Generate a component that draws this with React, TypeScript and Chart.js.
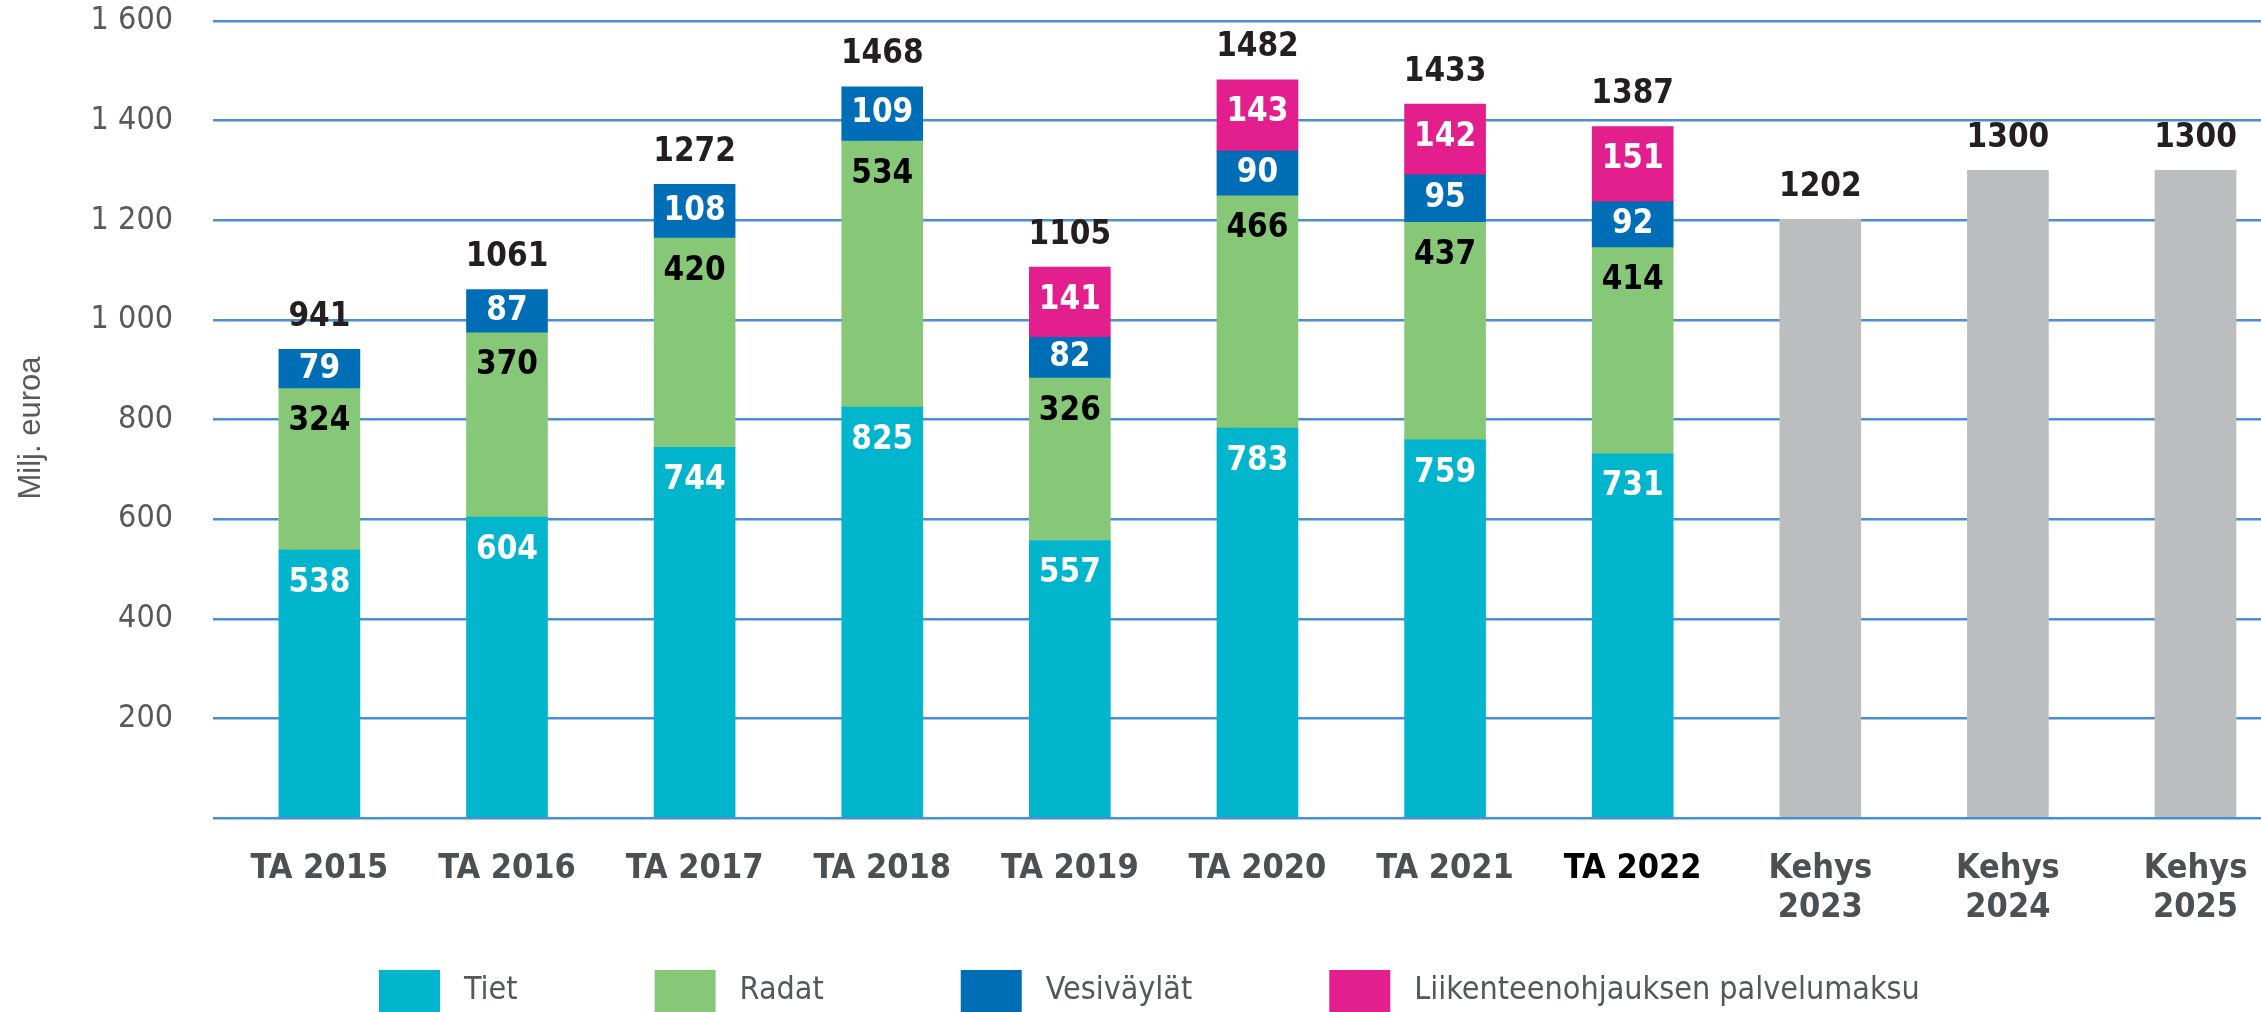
import React, { useEffect, useRef } from "react";
import { Chart, registerables } from "chart.js";

Chart.register(...registerables);

const categories = [
  "TA 2015", "TA 2016", "TA 2017", "TA 2018", "TA 2019", "TA 2020",
  "TA 2021", "TA 2022", "Kehys\n2023", "Kehys\n2024", "Kehys\n2025",
];
const highlightCategory = "TA 2022";

const tiet = [538, 604, 744, 825, 557, 783, 759, 731, null, null, null];
const radat = [324, 370, 420, 534, 326, 466, 437, 414, null, null, null];
const vesivaylat = [79, 87, 108, 109, 82, 90, 95, 92, null, null, null];
const liikenne = [null, null, null, null, 141, 143, 142, 151, null, null, null];
const kehys = [null, null, null, null, null, null, null, null, 1202, 1300, 1300];
const totals = [941, 1061, 1272, 1468, 1105, 1482, 1433, 1387, 1202, 1300, 1300];

const yTicks = [0, 200, 400, 600, 800, 1000, 1200, 1400, 1600];
const yTitle = "Milj. euroa";

const FONT = "'DejaVu Sans Condensed', 'DejaVu Sans', Tahoma, sans-serif";

const series = [
  { label: "Tiet", data: tiet, color: "#00b5cc", textColor: "#ffffff", legend: true },
  { label: "Radat", data: radat, color: "#86c877", textColor: "#000000", legend: true },
  { label: "Vesiväylät", data: vesivaylat, color: "#006eb6", textColor: "#ffffff", legend: true },
  { label: "Liikenteenohjauksen palvelumaksu", data: liikenne, color: "#e31f8e", textColor: "#ffffff", legend: true },
  { label: "Kehys", data: kehys, color: "#bcbdbf", textColor: null, legend: false },
];

function formatTick(v: number): string {
  if (v === 0) return "";
  if (v >= 1000) return `${Math.floor(v / 1000)} ${String(v % 1000).padStart(3, "0")}`;
  return String(v);
}

const labelPlugin = {
  id: "barLabels",
  afterDatasetsDraw(chart: any) {
    const ctx = chart.ctx;
    ctx.save();
    ctx.textAlign = "center";
    ctx.textBaseline = "middle";
    ctx.font = `bold 33px ${FONT}`;
    const tops: number[] = [];
    chart.data.datasets.forEach((ds: any, di: number) => {
      const meta = chart.getDatasetMeta(di);
      meta.data.forEach((bar: any, j: number) => {
        const raw = ds.data[j];
        if (!raw || raw.y == null) return;
        const idx = raw.x;
        const top = Math.min(bar.y, bar.base);
        if (tops[idx] === undefined || top < tops[idx]) tops[idx] = top;
        const tc = series[di].textColor;
        if (!tc) return;
        const base = Math.max(bar.y, bar.base);
        const y = Math.min(top + 33, (top + base) / 2);
        ctx.fillStyle = tc;
        ctx.fillText(String(raw.y), bar.x, y);
      });
    });
    const xScale = chart.scales.x;
    ctx.fillStyle = "#231f20";
    totals.forEach((t, i) => {
      if (tops[i] === undefined) return;
      ctx.fillText(String(t), xScale.getPixelForValue(i), tops[i] - 32);
    });
    ctx.restore();
  },
};

const legendPlugin = {
  id: "customLegend",
  afterDraw(chart: any) {
    const ctx = chart.ctx;
    ctx.save();
    // y-axis title
    ctx.font = "31px 'Liberation Sans', Arial, sans-serif";
    ctx.fillStyle = "#595959";
    ctx.textAlign = "center";
    ctx.textBaseline = "middle";
    ctx.translate(31, 428);
    ctx.rotate(-Math.PI / 2);
    ctx.fillText(yTitle, 0, 0);
    ctx.setTransform(1, 0, 0, 1, 0, 0);
    // legend
    ctx.font = `32px ${FONT}`;
    ctx.textBaseline = "middle";
    ctx.textAlign = "left";
    let x = 379;
    const boxTop = 970;
    const boxW = 61;
    const boxH = 44;
    const textY = 991;
    series.filter((s) => s.legend).forEach((s) => {
      ctx.fillStyle = s.color;
      ctx.fillRect(x, boxTop, boxW, boxH);
      ctx.fillStyle = "#54585a";
      const tx = x + boxW + 24;
      ctx.fillText(s.label, tx, textY);
      x = tx + ctx.measureText(s.label).width + 137;
    });
    ctx.restore();
  },
};

export default function App() {
  const ref = useRef<HTMLCanvasElement>(null);

  useEffect(() => {
    document.body.style.margin = "0";
    const canvas = ref.current;
    if (!canvas) return;
    const chart = new Chart(canvas, {
      type: "bar",
      data: {
        datasets: series.map((s) => ({
          label: s.label,
          data: s.data
            .map((v, i) => ({ x: i, y: v }))
            .filter((p) => p.y != null) as any,
          backgroundColor: s.color,
          borderWidth: 0,
          barThickness: 81,
        })),
      },
      options: {
        animation: false,
        responsive: false,
        devicePixelRatio: 1,
        layout: { padding: { top: 21, left: 0, right: 0, bottom: 0 } },
        plugins: {
          legend: { display: false },
          tooltip: { enabled: false },
          title: { display: false },
        },
        scales: {
          x: {
            type: "linear",
            stacked: true,
            offset: false,
            min: -0.567,
            max: 10.349,
            grid: { display: false, drawTicks: false },
            border: { display: false },
            afterBuildTicks: (axis: any) => {
              axis.ticks = categories.map((_, i) => ({ value: i }));
            },
            afterFit: (scale: any) => {
              scale.height = 194;
              scale.paddingLeft = 0;
              scale.paddingRight = 0;
            },
            ticks: {
              autoSkip: false,
              maxRotation: 0,
              minRotation: 0,
              padding: 32,
              font: { family: FONT, size: 34, weight: "bold", lineHeight: 1.15 },
              color: (c: any) =>
                categories[c.tick?.value] === highlightCategory ? "#000000" : "#4d5053",
              callback: (v: any) => {
                const lbl = categories[Math.round(Number(v))];
                return lbl ? lbl.split("\n") : "";
              },
            },
          },
          y: {
            stacked: true,
            min: yTicks[0],
            max: yTicks[yTicks.length - 1],
            afterBuildTicks: (axis: any) => {
              axis.ticks = yTicks.map((v) => ({ value: v }));
            },
            afterFit: (scale: any) => {
              scale.width = 213;
              scale.paddingTop = 0;
              scale.paddingBottom = 0;
            },
            grid: { color: "#4a8fd4", lineWidth: 2.5, drawTicks: false },
            border: { display: false },
            title: { display: false },
            ticks: {
              padding: 40,
              color: "#595959",
              font: { family: FONT, size: 32 },
              callback: (v: any) => formatTick(Number(v)),
            },
          },
        },
      },
      plugins: [labelPlugin, legendPlugin],
    });
    return () => chart.destroy();
  }, []);

  return (
    <div style={{ width: 2261, height: 1012 }}>
      <canvas ref={ref} width={2261} height={1012} style={{ display: "block" }} />
    </div>
  );
}
